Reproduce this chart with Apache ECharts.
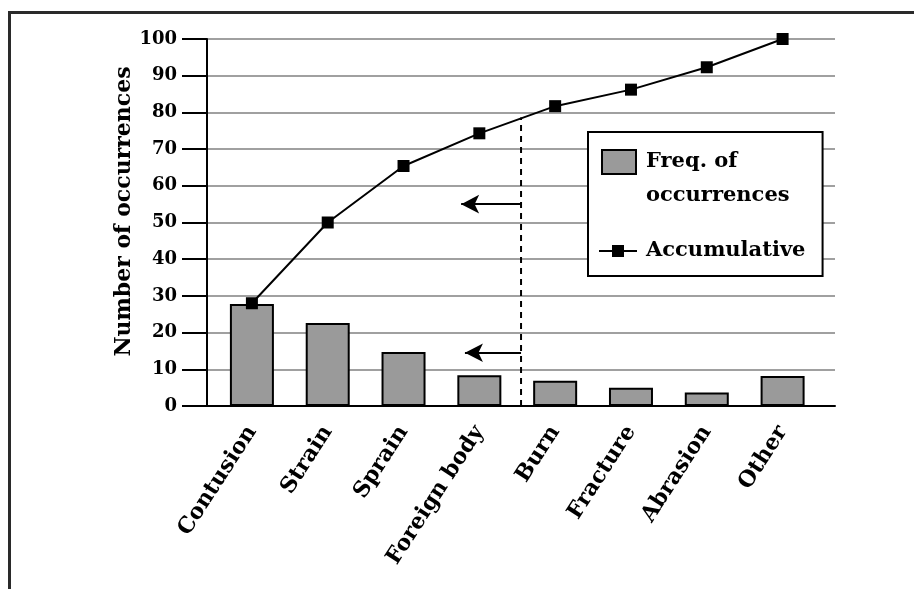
<!DOCTYPE html>
<html><head><meta charset="utf-8">
<script src="https://cdn.jsdelivr.net/npm/echarts@6.0.0/dist/echarts.min.js"></script>
<style>html,body{margin:0;padding:0;background:#fff}#c{width:914px;height:589px}</style>
</head><body><div id="c"></div>
<script>
// ---- data ----
const categories = ['Contusion', 'Strain', 'Sprain', 'Foreign body', 'Burn', 'Fracture', 'Abrasion', 'Other'];
const frequency = [27.8, 22.6, 14.7, 8.4, 6.9, 5.0, 3.7, 8.2];
const cumulative = [28, 50, 65.4, 74.3, 81.7, 86.2, 92.3, 100];
const yMin = 0, yMax = 100, yStep = 10;
const yTitle = 'Number of occurrences';
const barName = 'Freq. of occurrences';
const lineName = 'Accumulative';
// divider (in category-index units) and arrows
const dividerX = 3.55, dividerTop = 78.6;
const arrowLevels = [55, 14.5];
const arrowTips = [2.76, 2.81];

// ---- chart ----
const FONT = 'DejaVu Serif';
const chart = echarts.init(document.getElementById('c'), null, {renderer: 'canvas'});
const txt = {fontFamily: FONT, fontWeight: 'bold', color: '#000'};
const option = {
  animation: false,
  backgroundColor: '#fff',
  grid: [
    {left: 207, right: 79, top: 39, bottom: 183},
    {left: 214, right: 93.5, top: 39, bottom: 183}
  ],
  xAxis: [
    {gridIndex: 0, type: 'value', min: 0, max: 1,
     axisLine: {show: true, onZero: false, lineStyle: {color: '#000', width: 2}},
     axisTick: {show: false}, axisLabel: {show: false}, splitLine: {show: false}},
    {gridIndex: 1, type: 'category', data: categories,
     axisLine: {show: false}, axisTick: {show: false}, splitLine: {show: false},
     axisLabel: Object.assign({rotate: 57, margin: 22, fontSize: 22, interval: 0}, txt)},
    {gridIndex: 1, type: 'value', min: -0.5, max: 7.5, show: false}
  ],
  yAxis: [
    {gridIndex: 0, type: 'value', min: yMin, max: yMax, interval: yStep,
     name: yTitle, nameLocation: 'middle', nameGap: 72, nameMoveOverlap: false,
     nameTextStyle: Object.assign({fontSize: 22, padding: [0, 0, 0, 22]}, txt),
     axisLine: {show: true, lineStyle: {color: '#000', width: 2}},
     axisTick: {show: true, length: 25, lineStyle: {color: '#000', width: 2}},
     axisLabel: Object.assign({margin: 30, fontSize: 18}, txt),
     splitLine: {show: true, lineStyle: {color: '#a0a0a0', width: 2}}},
    {gridIndex: 1, type: 'value', min: yMin, max: yMax, show: false}
  ],
  legend: [
    {left: 588, top: 132, orient: 'vertical', padding: [12, 33, 62, 13],
     backgroundColor: '#fff', borderColor: '#000', borderWidth: 2,
     itemWidth: 34, itemHeight: 68, selectedMode: false,
     data: [{name: barName,
             icon: 'path://M0,0L0,0M0,5L34,5L34,29L0,29ZM0,68L0,68',
             itemStyle: {color: '#9a9a9a', borderColor: '#000', borderWidth: 2}}],
     formatter: () => 'Freq. of\noccurrences',
     textStyle: Object.assign({fontSize: 21, lineHeight: 34, padding: [0, 0, 0, 5]}, txt)},
    {left: 598, top: 240.5, orient: 'vertical', padding: 0, z: 6,
     itemWidth: 38, itemHeight: 15, selectedMode: false,
     data: [lineName],
     textStyle: Object.assign({fontSize: 21, padding: [0, 0, 0, 4]}, txt)}
  ],
  graphic: [
    {type: 'polyline', silent: true, z: 10,
     shape: {points: [[9.5, 589], [9.5, 12.5], [914, 12.5]]},
     style: {stroke: '#2a2a2a', lineWidth: 3, fill: null}}
  ],
  series: [
    {name: barName, type: 'bar', xAxisIndex: 1, yAxisIndex: 1, data: frequency,
     barWidth: 44, itemStyle: {color: '#9a9a9a', borderColor: '#000', borderWidth: 2}},
    {name: lineName, type: 'line', xAxisIndex: 1, yAxisIndex: 1, data: cumulative,
     symbol: 'rect', symbolSize: 12, z: 4,
     lineStyle: {color: '#000', width: 2}, itemStyle: {color: '#000'}},
    {name: 'divider', type: 'line', xAxisIndex: 2, yAxisIndex: 1,
     data: [[dividerX, yMin], [dividerX, dividerTop]], symbol: 'none', z: 3,
     lineStyle: {color: '#000', width: 2, type: [6, 5]},
     markLine: {silent: true, symbol: ['none', 'arrow'], symbolSize: [14, 18],
       lineStyle: {color: '#000', width: 2, type: 'solid'}, label: {show: false},
       data: arrowLevels.map((lv, i) => [{coord: [dividerX, lv]}, {coord: [arrowTips[i], lv]}])}}
  ]
};
chart.setOption(option);
</script>
</body></html>
